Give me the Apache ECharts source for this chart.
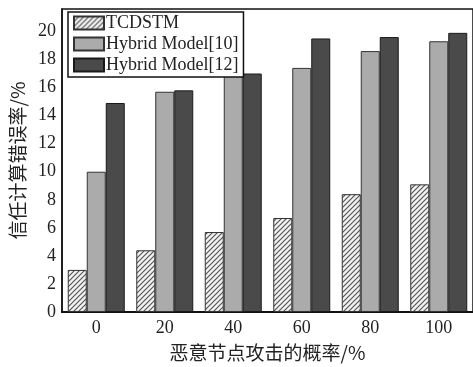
<!DOCTYPE html>
<html>
<head>
<meta charset="utf-8">
<script src="https://cdn.jsdelivr.net/npm/echarts@6/dist/echarts.min.js"></script>
<style>
  html, body { margin: 0; padding: 0; background: #fff; }
  #chart { width: 473px; height: 367px; }
</style>
</head>
<body>
<div id="chart"></div>
<script>
// Attack probability of malicious nodes (%)
const categories = ['0', '20', '40', '60', '80', '100'];
// Trust computation error rate (%)
const tcdstm = [3.0, 4.4, 5.7, 6.7, 8.4, 9.1];
const hybrid10 = [10.0, 15.7, 16.9, 17.4, 18.6, 19.3];
const hybrid12 = [14.9, 15.8, 17.0, 19.5, 19.6, 19.9];
const seriesNames = ['TCDSTM', 'Hybrid Model[10]', 'Hybrid Model[12]'];

// Diagonal hatch pattern for the TCDSTM bars
function hatchPattern() {
  const c = document.createElement('canvas');
  c.width = 5; c.height = 5;
  const g = c.getContext('2d');
  g.fillStyle = '#f2f2f2';
  g.fillRect(0, 0, 5, 5);
  g.strokeStyle = '#555';
  g.lineWidth = 1.2;
  g.beginPath();
  g.moveTo(-1, 6); g.lineTo(6, -1);
  g.moveTo(-4, 4); g.lineTo(4, -4);
  g.moveTo(1, 9); g.lineTo(9, 1);
  g.stroke();
  return { image: c, repeat: 'repeat' };
}

const serif = '"Liberation Serif", "Times New Roman", serif';
const cjk = '"Noto Sans CJK SC", "Liberation Serif", serif';

const chart = echarts.init(document.getElementById('chart'));
chart.setOption({
  animation: false,
  backgroundColor: '#fff',
  grid: {
    left: 59, top: 9, width: 416, height: 304,
    show: true, borderColor: '#111', borderWidth: 1.5, backgroundColor: 'transparent'
  },
  legend: {
    left: 68, top: 12,
    orient: 'vertical',
    icon: 'rect',
    itemWidth: 30, itemHeight: 13, itemGap: 3,
    padding: [2, 5, 3, 5],
    borderColor: '#111', borderWidth: 1.5,
    backgroundColor: '#fff',
    textStyle: { fontFamily: serif, fontSize: 18, lineHeight: 17, color: '#222', padding: [0, 0, 0, -3] },
    data: seriesNames
  },
  xAxis: {
    type: 'category',
    data: categories,
    boundaryGap: true,
    name: '恶意节点攻击的概率/%',
    nameLocation: 'middle',
    nameGap: 31,
    nameTextStyle: { fontFamily: cjk, fontSize: 19, color: '#222' },
    axisLine: { lineStyle: { color: '#111', width: 2 } },
    axisTick: { alignWithLabel: true, length: 5, lineStyle: { color: '#111', width: 2 } },
    axisLabel: { fontFamily: serif, fontSize: 18, color: '#222', margin: 7 },
    splitLine: { show: false }
  },
  yAxis: {
    type: 'value',
    min: 0, max: 21.6, interval: 2,
    name: '信任计算错误率/%',
    nameLocation: 'middle',
    nameGap: 35,
    nameTextStyle: { fontFamily: cjk, fontSize: 19, color: '#222' },
    axisLine: { show: true, lineStyle: { color: '#111', width: 1.5 } },
    axisTick: { show: false },
    axisLabel: { fontFamily: serif, fontSize: 18, color: '#222', margin: 6, showMaxLabel: false },
    splitLine: { show: false }
  },
  series: [
    {
      name: seriesNames[0], type: 'bar', data: tcdstm,
      barWidth: 19, barGap: '0%',
      itemStyle: { color: hatchPattern(), borderColor: '#333', borderWidth: 1 }
    },
    {
      name: seriesNames[1], type: 'bar', data: hybrid10,
      barWidth: 19, barGap: '0%',
      itemStyle: { color: '#ababab', borderColor: '#333', borderWidth: 1 }
    },
    {
      name: seriesNames[2], type: 'bar', data: hybrid12,
      barWidth: 19, barGap: '0%',
      itemStyle: { color: '#4a4a4a', borderColor: '#1a1a1a', borderWidth: 1 }
    }
  ]
});
</script>
</body>
</html>
